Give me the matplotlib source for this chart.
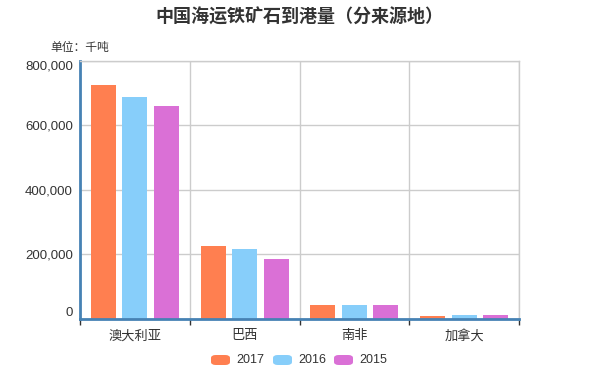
import matplotlib
matplotlib.use("Agg")
import matplotlib.pyplot as plt
import numpy as np
from matplotlib.ticker import FuncFormatter, FixedLocator
from matplotlib.patches import FancyBboxPatch

plt.rcParams['font.family'] = ['Liberation Sans', 'Noto Sans CJK SC', 'DejaVu Sans']

categories = ['澳大利亚', '巴西', '南非', '加拿大']
series_names = ['2017', '2016', '2015']
v2017 = [725000, 227000, 43000, 9000]
v2016 = [688000, 216000, 43000, 12000]
v2015 = [660000, 185000, 43000, 12000]
colors = ['#FF7F50', '#87CEFA', '#DA70D6']
yticks = [0, 200000, 400000, 600000, 800000]

fig = plt.figure(figsize=(5.99, 3.78), dpi=100)
ax = fig.add_axes([80/599, 59.2/378, 439/599, 258/378])

x = np.arange(len(categories))
width = 0.228
offs = [-0.287, 0.0, 0.287]
for vals, off, c in zip([v2017, v2016, v2015], offs, colors):
    ax.bar(x + off, vals, width=width, color=c, zorder=3)

ax.set_xlim(-0.5, len(categories) - 0.5)
ax.set_ylim(0, 800000)
ax.yaxis.set_major_locator(FixedLocator(yticks))
ax.yaxis.set_major_formatter(FuncFormatter(lambda v, p: f"{int(v):,}"))
ax.set_xticks(x)
ax.set_xticklabels(categories)
ax.set_xticks(np.arange(len(categories) + 1) - 0.5, minor=True)

ax.tick_params(axis='x', which='major', length=0, pad=8, labelsize=9.5, labelcolor='#333333')
ax.tick_params(axis='x', which='minor', length=4, width=1, color='#333333', direction='out')
ax.tick_params(axis='y', length=0, pad=5, labelsize=9.5, labelcolor='#333333')

ax.grid(True, axis='y', color='#cccccc', lw=1, zorder=0)
ax.grid(True, axis='x', which='minor', color='#cccccc', lw=1, zorder=0)
ax.set_axisbelow(True)

for s in ['top', 'right']:
    ax.spines[s].set_color('#cccccc')
    ax.spines[s].set_linewidth(1)
for s in ['left', 'bottom']:
    ax.spines[s].set_color('#4682B4')
    ax.spines[s].set_linewidth(2)
ax.spines['bottom'].set_zorder(4)

labels = ax.get_yticklabels()
labels[0].set_va('bottom')
labels[-1].set_va('top')

fig.text(0.5, 1 - 17/378, '中国海运铁矿石到港量（分来源地）', ha='center', va='center',
         fontsize=13, fontweight='bold', color='#333333')
fig.text(50/599, 1 - 48/378, '单位：千吨', ha='left', va='center', fontsize=8.5, color='#333333')

# legend
leg_x = [211, 273, 334]
for lx, name, c in zip(leg_x, series_names, colors):
    fig.patches.append(FancyBboxPatch((lx/599, 1 - 365/378), 19/599, 10/378,
                                      boxstyle='round,pad=0,rounding_size=0.008',
                                      transform=fig.transFigure, color=c, ec='none'))
    fig.text((lx + 25)/599, 1 - 360/378, name, ha='left', va='center', fontsize=9, color='#333333')

fig.savefig('out.png', dpi=100)
